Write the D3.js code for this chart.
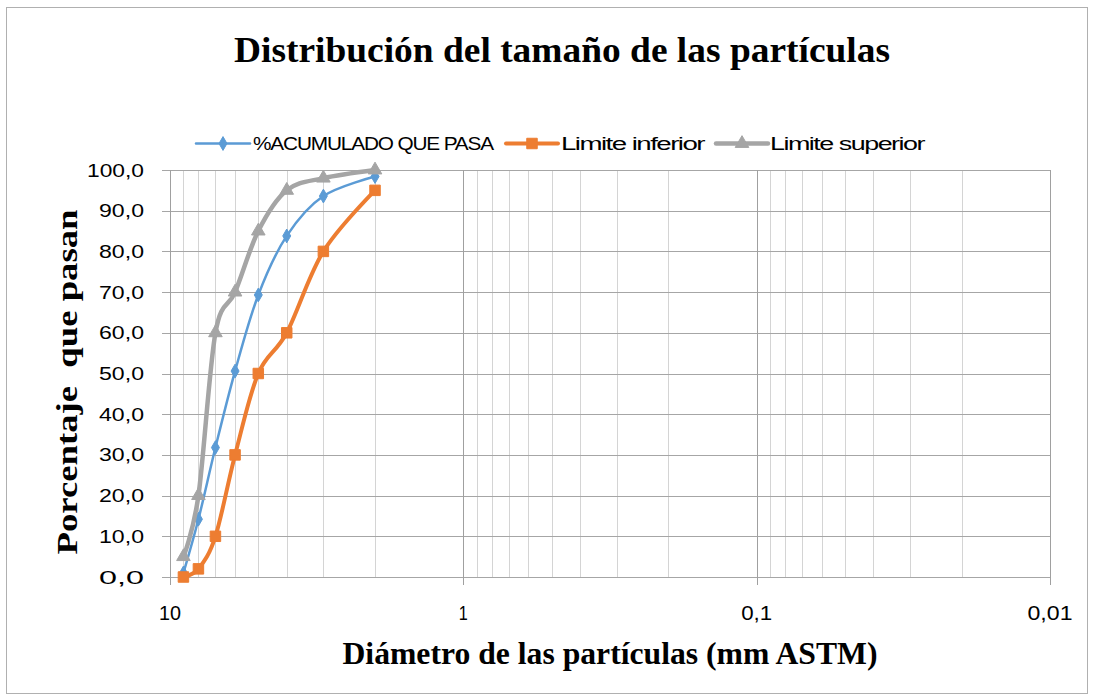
<!DOCTYPE html>
<html>
<head>
<meta charset="utf-8">
<script src="https://cdn.jsdelivr.net/npm/d3@7"></script>
<style>
  body { margin: 0; background: #fff; }
  svg { display: block; }
</style>
</head>
<body>
<svg id="chart"></svg>
<script>
// Granulometria - curva de distribucion (log x invertido)
const width = 1094;
const height = 700;

// Diametros (mm) de los puntos
const diameters = [9, 8, 7, 6, 5, 4, 3, 2];
// Series
const pasa = [1.0, 14.2, 31.8, 50.6, 69.3, 83.8, 93.6, 98.4];
const limInferior = [0, 2, 10, 30, 50, 60, 80, 95];
const limSuperior = [5, 20, 60, 70, 85, 95, 98, 100];

const yTicks = [0, 10, 20, 30, 40, 50, 60, 70, 80, 90, 100];
const xMajor = [10, 1, 0.1, 0.01];
const xMajorLabels = ["10", "1", "0,1", "0,01"];

const seriesNames = ["%ACUMULADO QUE PASA", "Limite inferior", "Limite superior"];
const seriesColors = ["#5b9bd5", "#ed7d31", "#a5a5a5"];

const serif = "'Liberation Serif', 'Times New Roman', Times, serif";
const sans = "'Liberation Sans', Arial, sans-serif";

const svg = d3.select("#chart")
    .attr("width", width)
    .attr("height", height);

// outer border
svg.append("rect")
    .attr("x", 6.5).attr("y", 7.5)
    .attr("width", 1081).attr("height", 686)
    .attr("fill", "#fff")
    .attr("stroke", "#b0b0b0")
    .attr("stroke-width", 1);

const x = d3.scaleLog().domain([10, 0.01]).range([170, 1050]);
const y = d3.scaleLinear().domain([0, 100]).range([577, 170]);

const grid = svg.append("g");

// minor vertical lines (2..9 of each decade)
const minor = [];
[1, 0.1, 0.01].forEach(base => {
    for (let k = 2; k <= 9; k++) minor.push(base * k);
});
grid.selectAll(".vminor")
    .data(minor)
    .enter().append("line")
    .attr("x1", d => Math.round(x(d)) + 0.5)
    .attr("x2", d => Math.round(x(d)) + 0.5)
    .attr("y1", y(100)).attr("y2", y(0))
    .attr("stroke", "#d4d4d4")
    .attr("stroke-width", 1);

// horizontal grid
grid.selectAll(".hgrid")
    .data(yTicks)
    .enter().append("line")
    .attr("x1", 162).attr("x2", 1050)
    .attr("y1", d => Math.round(y(d)) + 0.5)
    .attr("y2", d => Math.round(y(d)) + 0.5)
    .attr("stroke", "#a6a6a6")
    .attr("stroke-width", 1);

// major vertical lines with ticks
grid.selectAll(".vmajor")
    .data(xMajor)
    .enter().append("line")
    .attr("x1", d => Math.round(x(d)) + 0.5)
    .attr("x2", d => Math.round(x(d)) + 0.5)
    .attr("y1", y(100)).attr("y2", y(0) + 8)
    .attr("stroke", "#a0a0a0")
    .attr("stroke-width", 1);

// y tick labels
svg.selectAll(".ylab")
    .data(yTicks)
    .enter().append("text")
    .attr("x", 144)
    .attr("y", d => y(d) + 6.5)
    .attr("text-anchor", "end")
    .attr("font-family", sans)
    .attr("font-size", 18.5)
    .attr("fill", "#000")
    .attr("textLength", d => d === 100 ? 57 : 45)
    .attr("lengthAdjust", "spacingAndGlyphs")
    .text(d => d3.format(".1f")(d).replace(".", ","));

// x tick labels
const xLabLen = [22, 9, 31, 45];
svg.selectAll(".xlab")
    .data(xMajor)
    .enter().append("text")
    .attr("x", d => x(d))
    .attr("y", 620)
    .attr("text-anchor", "middle")
    .attr("font-family", sans)
    .attr("font-size", 20)
    .attr("fill", "#000")
    .attr("textLength", (d, i) => xLabLen[i])
    .attr("lengthAdjust", "spacingAndGlyphs")
    .text((d, i) => xMajorLabels[i]);

// series
const data = [pasa, limInferior, limSuperior];
const widths = [2.5, 4, 4.5];
const line = d3.line()
    .x(d => x(d[0]))
    .y(d => y(d[1]))
    .curve(d3.curveCatmullRom.alpha(0));

function drawMarker(g, i, cx, cy) {
    const s = d3.symbol().type([d3.symbolDiamond, d3.symbolSquare, d3.symbolTriangle][i])
        .size([55, 110, 80][i]);
    g.append("path")
        .attr("d", s)
        .attr("transform", `translate(${cx},${cy})`)
        .attr("fill", seriesColors[i])
        .attr("stroke", seriesColors[i])
        .attr("stroke-width", 1);
}

data.forEach((vals, i) => {
    const pts = diameters.map((d, j) => [d, vals[j]]);
    const g = svg.append("g");
    g.append("path")
        .attr("d", line(pts))
        .attr("fill", "none")
        .attr("stroke", seriesColors[i])
        .attr("stroke-width", widths[i])
        .attr("stroke-linejoin", "round")
        .attr("stroke-linecap", "round");
    pts.forEach(p => drawMarker(g, i, x(p[0]), y(p[1])));
});

// legend
const legendItems = [
    { x0: 196, x1: 250, tx: 253, tl: 240 },
    { x0: 506, x1: 558, tx: 561, tl: 143 },
    { x0: 716, x1: 768, tx: 770, tl: 154 }
];
const legend = svg.append("g");
legendItems.forEach((it, i) => {
    legend.append("line")
        .attr("x1", it.x0).attr("x2", it.x1)
        .attr("y1", 143.5).attr("y2", 143.5)
        .attr("stroke", seriesColors[i])
        .attr("stroke-width", widths[i])
        .attr("stroke-linecap", "round");
    drawMarker(legend, i, (it.x0 + it.x1) / 2, 143.5);
    legend.append("text")
        .attr("x", it.tx)
        .attr("y", 150)
        .attr("font-family", "'Liberation Sans Narrow', 'Liberation Sans', Arial, sans-serif")
        .attr("font-size", 18)
        .attr("letter-spacing", -1)
        .attr("textLength", it.tl)
        .attr("lengthAdjust", "spacingAndGlyphs")
        .attr("fill", "#000")
        .text(seriesNames[i]);
});

// title
svg.append("text")
    .attr("x", 562)
    .attr("y", 62)
    .attr("text-anchor", "middle")
    .attr("font-family", serif)
    .attr("font-weight", "bold")
    .attr("font-size", 36)
    .attr("textLength", 656)
    .attr("lengthAdjust", "spacingAndGlyphs")
    .text("Distribución del tamaño de las partículas");

// x axis title
svg.append("text")
    .attr("x", 610)
    .attr("y", 664)
    .attr("text-anchor", "middle")
    .attr("font-family", serif)
    .attr("font-weight", "bold")
    .attr("font-size", 31)
    .attr("textLength", 535)
    .attr("lengthAdjust", "spacingAndGlyphs")
    .text("Diámetro de las partículas (mm ASTM)");

// y axis title
svg.append("text")
    .attr("transform", "translate(77,382) rotate(-90)")
    .attr("text-anchor", "middle")
    .attr("font-family", serif)
    .attr("font-weight", "bold")
    .attr("font-size", 30)
    .attr("textLength", 345)
    .attr("lengthAdjust", "spacingAndGlyphs")
    .style("white-space", "pre")
    .text("Porcentaje  que pasan");
</script>
</body>
</html>
